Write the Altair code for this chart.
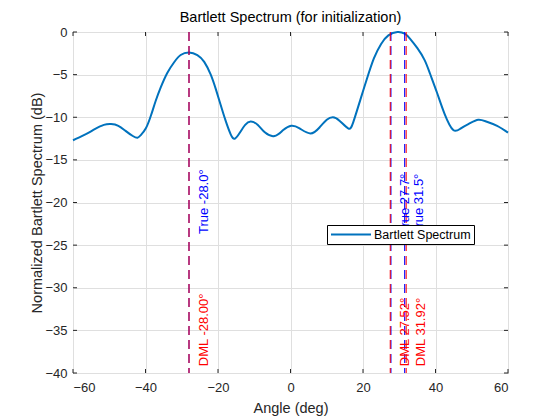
import altair as alt
import pandas as pd

# ---- data ----
ANGLE = [-60, -57, -54, -51.5, -49.5, -47.5, -45.5, -43.5, -42.2, -41.3, -39.9, -38.5,
         -37.2, -35.8, -34.0, -32.1, -30.3, -28.0, -25.7, -23.8, -22.0, -20.6, -19.3,
         -17.9, -16.5, -15.3, -13.8, -12.5, -11, -9, -7, -4.4, -2, 0.2, 2.5, 5.5, 8,
         10, 11.7, 13.5, 15.9, 17.3, 19.3, 21, 23, 25, 27, 29.5, 31.5, 33, 35, 37,
         38.5, 40.4, 42.5, 44.9, 47, 49.5, 51.8, 54, 57, 60]
SPECTRUM_DB = [-12.7, -12.1, -11.4, -10.9, -10.8, -11.0, -11.6, -12.2, -12.4, -12.1,
               -11.3, -9.8, -8.1, -6.5, -4.8, -3.55, -2.7, -2.4, -2.7, -3.5, -5.0, -6.7,
               -8.5, -10.4, -12.0, -12.5, -11.7, -10.9, -10.5, -10.9, -11.8, -12.2,
               -11.5, -11.0, -11.3, -11.9, -11.2, -10.3, -10.0, -10.4, -11.3, -10.6,
               -7.9, -5.6, -3.1, -1.4, -0.4, 0.0, -0.2, -0.8, -1.9, -3.3, -4.9, -7.1,
               -9.6, -11.5, -11.3, -10.7, -10.3, -10.5, -11.0, -11.8]
TRUE_ANGLES = [-28.0, 27.7, 31.5]
DML_ANGLES = [-28.00, 27.52, 31.92]
X_TICKS = [-60, -40, -20, 0, 20, 40, 60]
Y_TICKS = [0, -5, -10, -15, -20, -25, -30, -35, -40]
SERIES = "Bartlett Spectrum"
TITLE = ["Bartlett Spectrum (for initialization)"]

W, H = 435, 341
FONT = "Liberation Sans"
AX = "#262626"

spec_df = pd.DataFrame({"angle": ANGLE, "db": SPECTRUM_DB, "series": SERIES})
true_df = pd.DataFrame({"angle": TRUE_ANGLES,
                        "label": [f"True {a:.1f}\u00b0" for a in TRUE_ANGLES]})
dml_df = pd.DataFrame({"angle": DML_ANGLES,
                       "label": [f"DML {a:.2f}\u00b0" for a in DML_ANGLES]})
xt_df = pd.DataFrame({"v": X_TICKS})
yt_df = pd.DataFrame({"v": Y_TICKS})
title_df = pd.DataFrame({"t": TITLE})

xscale = alt.Scale(domain=[-60, 60], nice=False, zero=False)
yscale = alt.Scale(domain=[-40, 0], nice=False, zero=False)

line = alt.Chart(spec_df).mark_line(strokeWidth=2, interpolate="natural").encode(
    x=alt.X("angle:Q", scale=xscale,
            axis=alt.Axis(values=X_TICKS, title="Angle (deg)", labelPadding=8,
                          titleY=39, titleBaseline="alphabetic")),
    y=alt.Y("db:Q", scale=yscale,
            axis=alt.Axis(values=Y_TICKS, title="Normalized Bartlett Spectrum (dB)",
                          labelPadding=6, titleX=-32, titleY=H / 2,
                          titleBaseline="alphabetic")),
    color=alt.Color("series:N", scale=alt.Scale(range=["#0072BD"]),
                    legend=alt.Legend(title=None, orient="none", legendX=254, legendY=193,
                                      padding=3, strokeColor="black", fillColor="white",
                                      labelFontSize=12.5, labelColor="black", labelFont=FONT,
                                      symbolType="stroke", symbolSize=1600,
                                      symbolStrokeWidth=2, clipHeight=13, labelOffset=2,
                                      cornerRadius=0)),
)

true_rules = alt.Chart(true_df).mark_rule(color="#0000FF", strokeDash=[9, 5],
                                          strokeWidth=1.1).encode(
    x=alt.X("angle:Q", scale=xscale))
dml_rules = alt.Chart(dml_df).mark_rule(color="#FF0000", strokeDash=[9, 5],
                                        strokeWidth=1.1, opacity=0.9).encode(
    x=alt.X("angle:Q", scale=xscale))

true_text = alt.Chart(true_df).mark_text(angle=270, align="left", baseline="middle",
                                         dy=14.5, fontSize=13, font=FONT,
                                         color="#0000FF").encode(
    x=alt.X("angle:Q", scale=xscale), y=alt.datum(-23.7), text="label:N")
dml_text = alt.Chart(dml_df).mark_text(angle=270, align="left", baseline="middle",
                                       dy=14.5, fontSize=13, font=FONT,
                                       color="#FF0000").encode(
    x=alt.X("angle:Q", scale=xscale), y=alt.datum(-39.2), text="label:N")

title_text = alt.Chart(title_df).mark_text(align="center", baseline="alphabetic",
                                           fontSize=14.5, font=FONT,
                                           color="black").encode(
    x=alt.value(W / 2), y=alt.value(-10), text="t:N")

tick_style = dict(color=AX, strokeWidth=1)
xt_bottom = alt.Chart(xt_df).mark_rule(**tick_style).encode(
    x=alt.X("v:Q", scale=xscale), y=alt.value(H), y2=alt.value(H - 4))
xt_top = alt.Chart(xt_df).mark_rule(**tick_style).encode(
    x=alt.X("v:Q", scale=xscale), y=alt.value(0), y2=alt.value(4))
yt_left = alt.Chart(yt_df).mark_rule(**tick_style).encode(
    y=alt.Y("v:Q", scale=yscale), x=alt.value(0), x2=alt.value(4))
yt_right = alt.Chart(yt_df).mark_rule(**tick_style).encode(
    y=alt.Y("v:Q", scale=yscale), x=alt.value(W), x2=alt.value(W - 4))

chart = alt.layer(
    line, true_rules, dml_rules, true_text, dml_text,
    xt_bottom, xt_top, yt_left, yt_right, title_text,
).properties(
    width=W, height=H,
    autosize=alt.AutoSizeParams(type="none"),
    padding={"left": 65, "top": 24, "right": 44, "bottom": 48},
).configure_view(
    stroke=AX, strokeWidth=1
).configure_axis(
    grid=True, gridColor="#dfdfdf", gridWidth=1, domain=False, ticks=False, tickSize=0,
    labelFontSize=13, labelFont=FONT, labelColor=AX,
    titleFontSize=14.5, titleFont=FONT, titleFontWeight="normal", titleColor=AX,
)

chart.save("out.html", embed_options={"renderer": "svg", "actions": False})
